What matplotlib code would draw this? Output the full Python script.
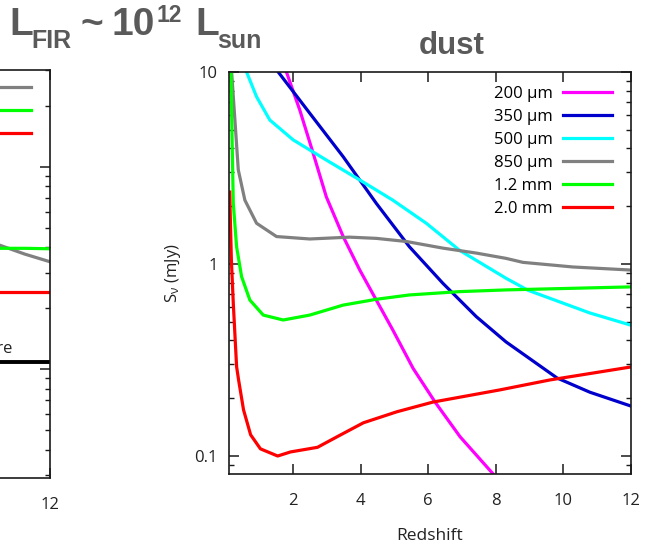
import matplotlib
matplotlib.use('Agg')
import matplotlib.pyplot as plt
from matplotlib.ticker import LogLocator, NullLocator, FixedLocator, FixedFormatter

plt.rcParams['font.family'] = ['Open Sans', 'DejaVu Sans']
plt.rcParams['mathtext.fontset'] = 'custom'
plt.rcParams['mathtext.rm'] = 'Open Sans'
plt.rcParams['mathtext.it'] = 'Open Sans:italic'

# ---------------- data (right panel: dust) ----------------
x_200um = [1.80, 2.195, 2.59, 2.98, 3.48, 3.97, 4.46, 4.95, 5.55, 6.20, 6.94, 7.92]
y_200um = [10.0, 6.34, 3.78, 2.24, 1.39, 0.931, 0.649, 0.453, 0.286, 0.191, 0.126, 0.0806]

x_350um = [1.557, 2.49, 3.48, 4.46, 5.44, 6.43, 7.42, 8.30, 9.81, 10.78, 12.0]
y_350um = [10.0, 6.10, 3.62, 2.07, 1.23, 0.794, 0.532, 0.393, 0.255, 0.215, 0.182]

x_500um = [0.62, 0.916, 1.309, 2.0, 2.98, 3.97, 4.95, 5.94, 6.92, 8.30, 8.95, 10.78, 12.0]
y_500um = [10.0, 7.43, 5.62, 4.43, 3.48, 2.74, 2.15, 1.63, 1.18, 0.843, 0.73, 0.556, 0.48]

x_850um = [0.177, 0.275, 0.375, 0.57, 0.916, 1.507, 2.49, 3.67, 4.46, 5.35, 6.43, 7.42, 8.30, 8.80, 10.28, 12.0]
y_850um = [10.0, 5.62, 3.09, 2.15, 1.63, 1.39, 1.35, 1.38, 1.36, 1.31, 1.21, 1.14, 1.07, 1.02, 0.965, 0.93]

x_1p2mm = [0.16, 0.19, 0.227, 0.325, 0.473, 0.718, 1.114, 1.705, 2.49, 3.48, 4.46, 5.44, 6.92, 8.30, 12.0]
y_1p2mm = [10.0, 4.60, 2.07, 1.23, 0.859, 0.649, 0.542, 0.511, 0.542, 0.611, 0.655, 0.690, 0.718, 0.733, 0.76]

x_2p0mm = [0.12, 0.17, 0.227, 0.325, 0.384, 0.53, 0.74, 1.03, 1.54, 1.92, 2.72, 3.30, 4.08, 5.07, 6.14, 8.12, 9.60, 12.0]
y_2p0mm = [2.37, 1.05, 0.624, 0.292, 0.249, 0.174, 0.129, 0.109, 0.10, 0.105, 0.111, 0.126, 0.149, 0.170, 0.191, 0.221, 0.249, 0.291]

labels = ['200 µm', '350 µm', '500 µm', '850 µm', '1.2 mm', '2.0 mm']
colors = ['#ff00ff', '#0000cc', '#00ffff', '#808080', '#00ff00', '#ff0000']

x_ticks = [2, 4, 6, 8, 10, 12]
x_ticklabels = ['2', '4', '6', '8', '10', '12']
y_ticks = [0.1, 1, 10]
y_ticklabels = ['0.1', '1', '10']

# ---------------- data (left panel, mostly cut off) ----------------
xl = [10.5, 11.25, 12.0]
yl_850um = [4.1, 3.7, 3.39]
yl_1p2mm = [3.95, 3.95, 3.93]
yl_2p0mm = [2.4, 2.4, 2.4]
left_labels = ['850 µm', '1.2 mm', '2.0 mm']
left_colors = ['#808080', '#00ff00', '#ff0000']
limit_x = [0.1, 12.0]
limit_y = [1.08, 1.08]
limit_text = 'ALMA detection threshold, 1 hr exposure'

W, H = 654, 552
fig = plt.figure(figsize=(W / 100, H / 100), dpi=100)


def fx(p):
    return p / W


def fy(p):
    return 1 - p / H


def style_axes(a):
    for s in a.spines.values():
        s.set_linewidth(1.2)
        s.set_color('#1a1a1a')
    a.tick_params(which='both', direction='in', top=True, right=True,
                  color='#1a1a1a', labelcolor='#222222', labelsize=12)
    a.tick_params(which='major', length=7, width=1.1)
    a.tick_params(which='minor', length=3.8, width=1.0)
    a.tick_params(axis='x', pad=13.5)
    a.tick_params(axis='y', pad=8)


# ---------------- right panel ----------------
ax = fig.add_axes([fx(229), fy(474), (631 - 229) / W, (474 - 72) / H])
ax.set_yscale('log')
series = [(x_200um, y_200um), (x_350um, y_350um), (x_500um, y_500um),
          (x_850um, y_850um), (x_1p2mm, y_1p2mm), (x_2p0mm, y_2p0mm)]
for (xs, ys), c, lab in zip(series, colors, labels):
    ax.plot(xs, ys, color=c, lw=2.3, label=lab, solid_joinstyle='round')
ax.set_xlim(0.1, 12)
ax.set_ylim(0.0806, 10)
ax.xaxis.set_major_locator(FixedLocator(x_ticks))
ax.xaxis.set_major_formatter(FixedFormatter(x_ticklabels))
ax.xaxis.set_minor_locator(NullLocator())
ax.yaxis.set_major_locator(FixedLocator(y_ticks))
ax.yaxis.set_major_formatter(FixedFormatter(y_ticklabels))
ax.yaxis.set_minor_locator(LogLocator(base=10, subs=[2, 3, 4, 5, 6, 7, 8, 9]))
style_axes(ax)
ax.set_xlabel('Redshift', fontsize=12.5, color='#222222', labelpad=14)
ax.set_ylabel(r'S$_{\mathregular{ν}}$ (mJy)', fontsize=12, color='#222222', labelpad=8)
ax.legend(loc='upper right', bbox_to_anchor=((612 - 229) / 402, 1 - (86 - 72) / 402),
          frameon=False, markerfirst=False, fontsize=12, handlelength=2.95,
          handletextpad=0.6, labelspacing=0.42, borderpad=0, borderaxespad=0)

# ---------------- left panel (cut off by the figure edge) ----------------
axl = fig.add_axes([fx(-352), fy(478), 402 / W, 408 / H])
axl.set_yscale('log')
for ys, c, lab in zip([yl_850um, yl_1p2mm, yl_2p0mm], left_colors, left_labels):
    axl.plot(xl, ys, color=c, lw=2.3, label=lab)
axl.plot(limit_x, limit_y, color='black', lw=2.8)
axl.annotate(limit_text, xy=(10.9, limit_y[0]), xytext=(0, 4), textcoords='offset points',
             ha='right', va='bottom', fontsize=12, color='#222222')
axl.set_xlim(0.1, 12)
axl.set_ylim(0.29, 30)
axl.xaxis.set_major_locator(FixedLocator(x_ticks))
axl.xaxis.set_major_formatter(FixedFormatter(x_ticklabels))
axl.xaxis.set_minor_locator(NullLocator())
axl.yaxis.set_minor_locator(LogLocator(base=10, subs=[2, 3, 4, 5, 6, 7, 8, 9]))
style_axes(axl)
axl.legend(loc='upper right', bbox_to_anchor=((31 + 352) / 402, 1 - (81 - 70) / 408),
           frameon=False, markerfirst=False, fontsize=12, handlelength=2.95,
           handletextpad=0.6, labelspacing=0.42, borderpad=0, borderaxespad=0)

# ---------------- titles ----------------
tc = '#5a5a5a'
big = 28
sub = 18
fig.text(fx(9), fy(35), 'L', fontsize=big, fontweight='bold', color=tc,
         family='Liberation Sans', ha='left', va='baseline')
fig.text(fx(31), fy(48), 'FIR', fontsize=sub, fontweight='bold', color=tc,
         family='Liberation Sans', ha='left', va='baseline')
fig.text(fx(80), fy(35), '~', fontsize=big, fontweight='bold', color=tc,
         family='Liberation Sans', ha='left', va='baseline')
fig.text(fx(111), fy(35), '10', fontsize=big, fontweight='bold', color=tc,
         family='Liberation Sans', ha='left', va='baseline')
fig.text(fx(156), fy(22), '12', fontsize=16.5, fontweight='bold', color=tc,
         family='Liberation Sans', ha='left', va='baseline')
fig.text(fx(195), fy(35), 'L', fontsize=big, fontweight='bold', color=tc,
         family='Liberation Sans', ha='left', va='baseline')
fig.text(fx(217), fy(48), 'sun', fontsize=sub, fontweight='bold', color=tc,
         family='Liberation Sans', ha='left', va='baseline')
fig.text(fx(452), fy(54), 'dust', fontsize=22.5, fontweight='bold', color=tc,
         family='Liberation Sans', ha='center', va='baseline')

fig.savefig('out.png', dpi=100)
